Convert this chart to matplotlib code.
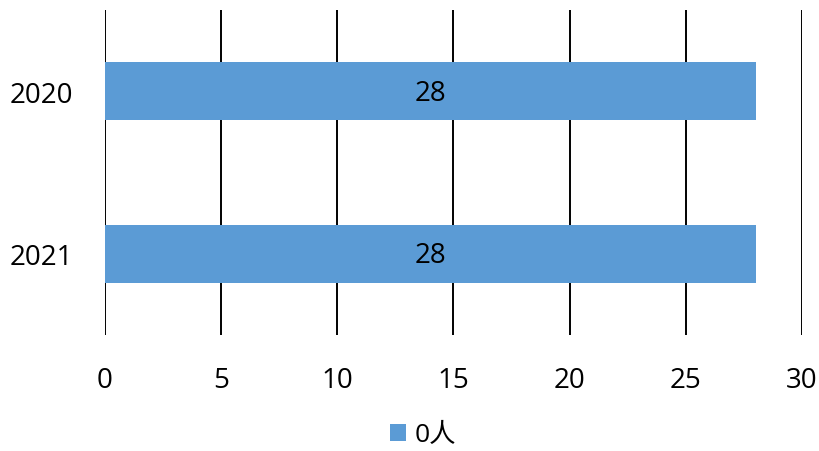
import matplotlib
matplotlib.use("Agg")
import matplotlib.pyplot as plt
from matplotlib.patches import Patch

plt.rcParams['font.family'] = ['Open Sans', 'Noto Sans CJK SC', 'DejaVu Sans']

categories = ["2020", "2021"]
values = [28, 28]
series_name = "0人"
xticks = [0, 5, 10, 15, 20, 25, 30]

color = "#5B9BD5"
fs = 20

fig = plt.figure(figsize=(8.2, 4.52), dpi=100)
ax = fig.add_axes([105/820, 1-336/452, (802-105)/820, (336-11)/452])

pos = list(range(len(categories)))
ax.barh(pos, values, height=0.357, color=color, zorder=3)
for p, v in zip(pos, values):
    ax.text(v/2, p + 0.01, str(v), ha='center', va='center', fontsize=fs, color='black', zorder=4)

ax.set_xlim(0, 30)
ax.set_ylim(len(categories)-0.5, -0.5)
ax.set_yticks(pos)
ax.set_yticklabels(categories, fontsize=fs)
ax.set_xticks(xticks)
ax.set_xticklabels([str(t) for t in xticks], fontsize=fs)
ax.tick_params(axis='both', length=0)
ax.tick_params(axis='x', pad=22)
ax.tick_params(axis='y', pad=23)
ax.xaxis.grid(True, color='black', linewidth=1.4, zorder=0)
ax.set_axisbelow(True)
for s in ax.spines.values():
    s.set_visible(False)

handles = [Patch(facecolor=color, label=series_name)]
fig.legend(handles=handles, loc='center', bbox_to_anchor=(423/820, 1-436/452), frameon=False,
           fontsize=19, handlelength=0.6, handleheight=0.6, handletextpad=0.3,
           borderpad=0.1)

fig.savefig("out.png", dpi=100)
